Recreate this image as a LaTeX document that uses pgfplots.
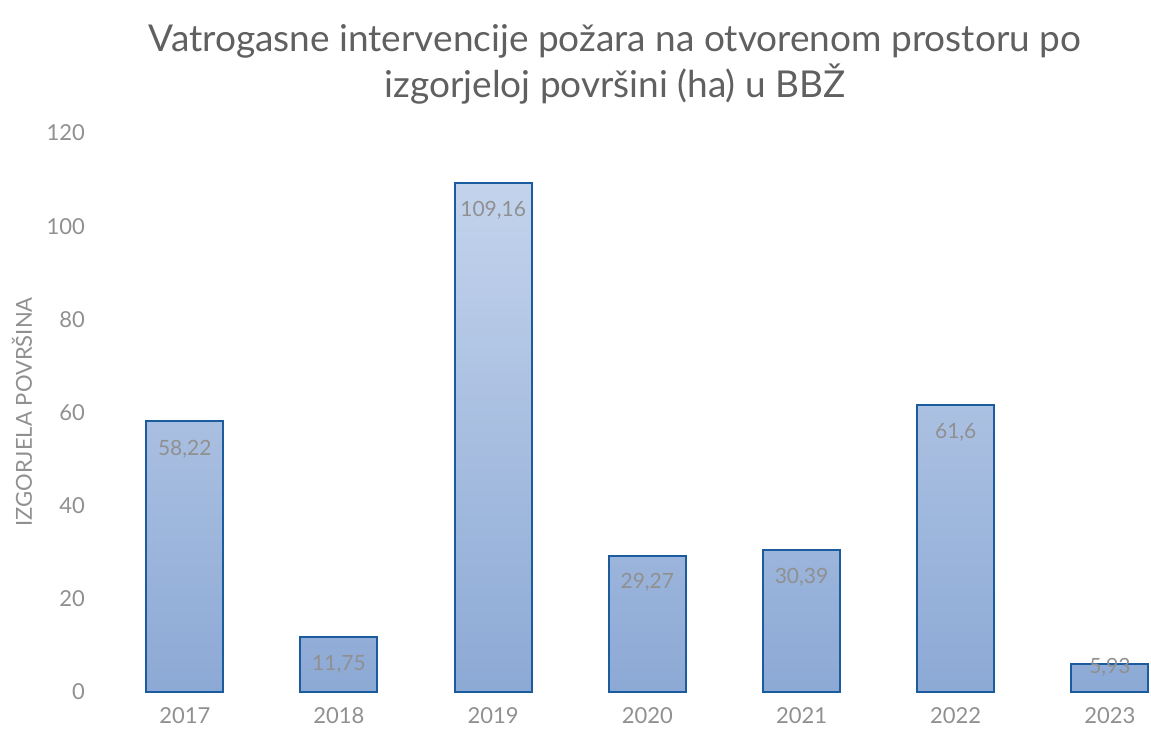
\documentclass[border=0pt]{standalone}
\usepackage{fontspec}
\setmainfont{Lato}
\usepackage{pgfplots}
\usepackage{pgfplotstable}
\pgfplotsset{compat=1.18}
\definecolor{bartop}{HTML}{C3D3EC}
\definecolor{barbot}{HTML}{8CA9D5}
\definecolor{bardraw}{HTML}{1B5C9E}
\definecolor{txtgrey}{HTML}{909090}
\definecolor{titlegrey}{HTML}{606060}
\pgfplotstableread{
x y
0 58.22
1 11.75
2 109.16
3 29.27
4 30.39
5 61.6
6 5.93
}\bars
\pgfplotstableread{
x ly lab
0 52.2 58,22
1 5.9 11,75
2 103.3 109,16
3 23.5 29,27
4 24.6 30,39
5 55.8 61,6
6 5.2 5,93
}\labs
\begin{document}
\begin{tikzpicture}
\useasboundingbox (-50pt,-22.5pt) rectangle (525.5pt,346pt);
\node[font=\fontsize{18.5}{22}\selectfont, text=titlegrey, align=center] at (257.5pt,314pt)
  {Vatrogasne intervencije požara na otvorenom prostoru po\\[1pt]izgorjeloj površini (ha) u BBŽ};
\begin{axis}[
  at={(0pt,0pt)}, anchor=south west,
  scale only axis, width=525pt, height=279.5pt,
  xmin=-0.55, xmax=6.26, ymin=0, ymax=120,
  ytick={0,20,...,120}, xtick={0,...,6},
  xticklabels={2017,2018,2019,2020,2021,2022,2023},
  tick style={draw=none},
  axis x line*=bottom, axis y line*=left,
  x axis line style={draw=none}, y axis line style={draw=none},
  ticklabel style={font=\fontsize{11}{13}\selectfont, text=txtgrey},
  xticklabel style={yshift=-4pt},
  yticklabel style={xshift=-4pt},
  /pgf/number format/assume math mode=true,
  ylabel={IZGORJELA POVRŠINA},
  every axis y label/.style={at={(-39pt,140pt)}, rotate=90, anchor=center,
    font=\fontsize{11}{13}\selectfont, text=txtgrey},
  clip=false,
]
\addplot[ybar, bar width=38.5pt, draw=bardraw, line width=1pt, top color=bartop, bottom color=barbot]
  table[x=x,y=y]{\bars};
\addplot[only marks, mark=none, nodes near coords, point meta=explicit symbolic,
  every node near coord/.style={anchor=center, font=\fontsize{10.5}{12}\selectfont, text=txtgrey}]
  table[x=x,y=ly,meta=lab]{\labs};
\end{axis}
\end{tikzpicture}
\end{document}
